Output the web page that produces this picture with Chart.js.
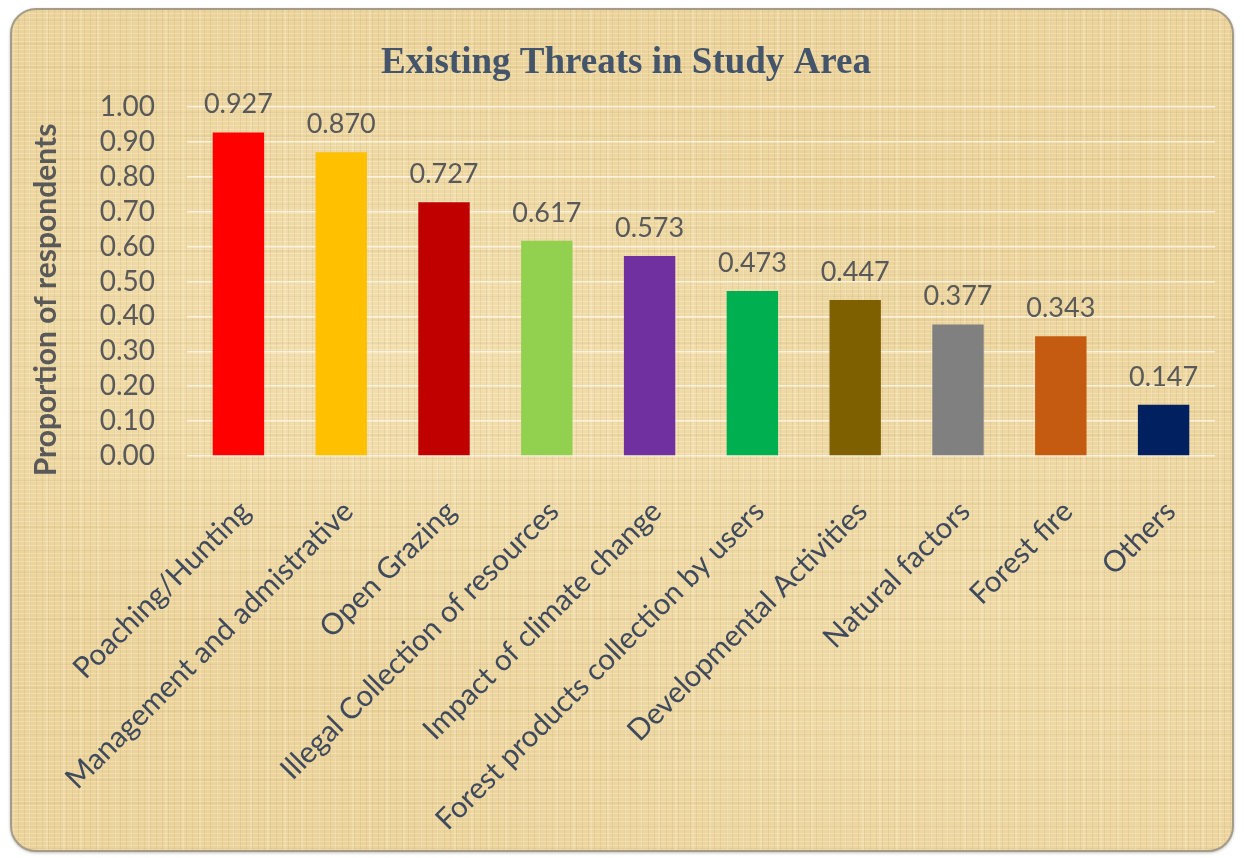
<!DOCTYPE html>
<html>
<head>
<meta charset="utf-8">
<title>Existing Threats in Study Area</title>
<script src="https://cdn.jsdelivr.net/npm/chart.js@4.4.1/dist/chart.umd.min.js"></script>
<style>
  html, body { margin: 0; padding: 0; background: #fff; }
  #wrap { position: relative; width: 1244px; height: 858px; overflow: hidden; }
  /* parchment panel behind the chart */
  #panel {
    position: absolute; left: 10px; top: 8px; width: 1224px; height: 844px;
    box-sizing: border-box; border: 2px solid #a59c88; border-radius: 26px;
    background-color: #ebd39b;
    background-image:
      repeating-linear-gradient(0deg, rgba(255,246,220,.30) 0 1px, transparent 1px 4px),
      repeating-linear-gradient(90deg, rgba(170,140,80,.15) 0 1px, transparent 1px 6px),
      repeating-linear-gradient(90deg, rgba(255,245,215,.22) 0 2px, transparent 2px 17px),
      repeating-linear-gradient(0deg, rgba(190,160,100,.13) 0 2px, transparent 2px 23px),
      radial-gradient(ellipse at 30% 40%, rgba(250,235,195,.5), transparent 45%),
      radial-gradient(ellipse at 75% 70%, rgba(245,228,185,.4), transparent 50%);
    box-shadow: 0 1px 3px rgba(0,0,0,.25);
  }
  canvas { position: absolute; left: 0; top: 0; }
</style>
</head>
<body>
<div id="wrap">
  <div id="panel"></div>
  <canvas id="chart" width="1244" height="858"></canvas>
</div>
<script>
// --- Data ---
const categories = [
  'Poaching/Hunting',
  'Management and admistrative',
  'Open Grazing',
  'Illegal Collection of resources',
  'Impact of climate change',
  'Forest products collection by users',
  'Developmental Activities',
  'Natural factors',
  'Forest fire',
  'Others'
];
const proportions = [0.927, 0.870, 0.727, 0.617, 0.573, 0.473, 0.447, 0.377, 0.343, 0.147];
const barColors = ['#FF0000','#FFC000','#C00000','#92D050','#7030A0','#00B050','#7F6000','#808080','#C55A11','#002060'];
const yTicks = [0.0, 0.1, 0.2, 0.3, 0.4, 0.5, 0.6, 0.7, 0.8, 0.9, 1.0];
const chartTitle = 'Existing Threats in Study Area';
const yTitle = 'Proportion of respondents';

const SANS = 'Lato, "Open Sans", sans-serif';
const GREY = '#595959';

// title, value labels above each bar, y axis title (a bit below the axis middle)
const chartText = {
  id: 'chartText',
  afterDatasetsDraw(chart){
    const ctx = chart.ctx;
    const meta = chart.getDatasetMeta(0);
    ctx.save();
    ctx.textAlign = 'center';

    ctx.font = 'bold 37px "Liberation Serif", "Times New Roman", serif';
    ctx.fillStyle = '#44546A';
    ctx.textBaseline = 'alphabetic';
    ctx.fillText(chartTitle, 626, 73);

    ctx.font = '27px ' + SANS;
    ctx.fillStyle = GREY;
    meta.data.forEach((bar, i)=>{
      ctx.fillText(proportions[i].toFixed(3), bar.x, bar.y - 19);
    });

    ctx.font = 'bold 30px ' + SANS;
    ctx.textBaseline = 'middle';
    ctx.translate(46, 300);
    ctx.rotate(-Math.PI / 2);
    ctx.fillText(yTitle, 0, 0);
    ctx.restore();
  }
};

const ctx = document.getElementById('chart').getContext('2d');
new Chart(ctx, {
  type: 'bar',
  data: {
    labels: categories,
    datasets: [{
      data: proportions,
      backgroundColor: barColors,
      borderWidth: 0,
      barPercentage: 0.5,
      categoryPercentage: 1.0
    }]
  },
  options: {
    responsive: false,
    animation: false,
    layout: { padding: { left: 25, right: 29, top: 107, bottom: 0 } },
    plugins: {
      legend: { display: false },
      tooltip: { enabled: false },
      title: { display: false }
    },
    scales: {
      y: {
        min: 0, max: 1,
        afterBuildTicks(scale){ scale.ticks = yTicks.map(v=>({ value: v })); },
        afterFit(scale){ scale.width = 162; },
        grid: { color: 'rgba(255,248,235,0.8)', lineWidth: 1.5, drawTicks: false },
        border: { display: false },
        ticks: {
          color: GREY, padding: 32, autoSkip: false,
          font: { family: SANS, size: 28 },
          callback: v => Number(v).toFixed(2)
        }
      },
      x: {
        afterFit(scale){ scale.height = 402; },
        grid: { display: false, drawTicks: false },
        border: { display: false },
        ticks: {
          color: '#3f4a5c', maxRotation: 45, minRotation: 45,
          padding: 38, labelOffset: 7, autoSkip: false,
          font: { family: SANS, size: 29.5 }
        }
      }
    }
  },
  plugins: [chartText]
});
</script>
</body>
</html>
